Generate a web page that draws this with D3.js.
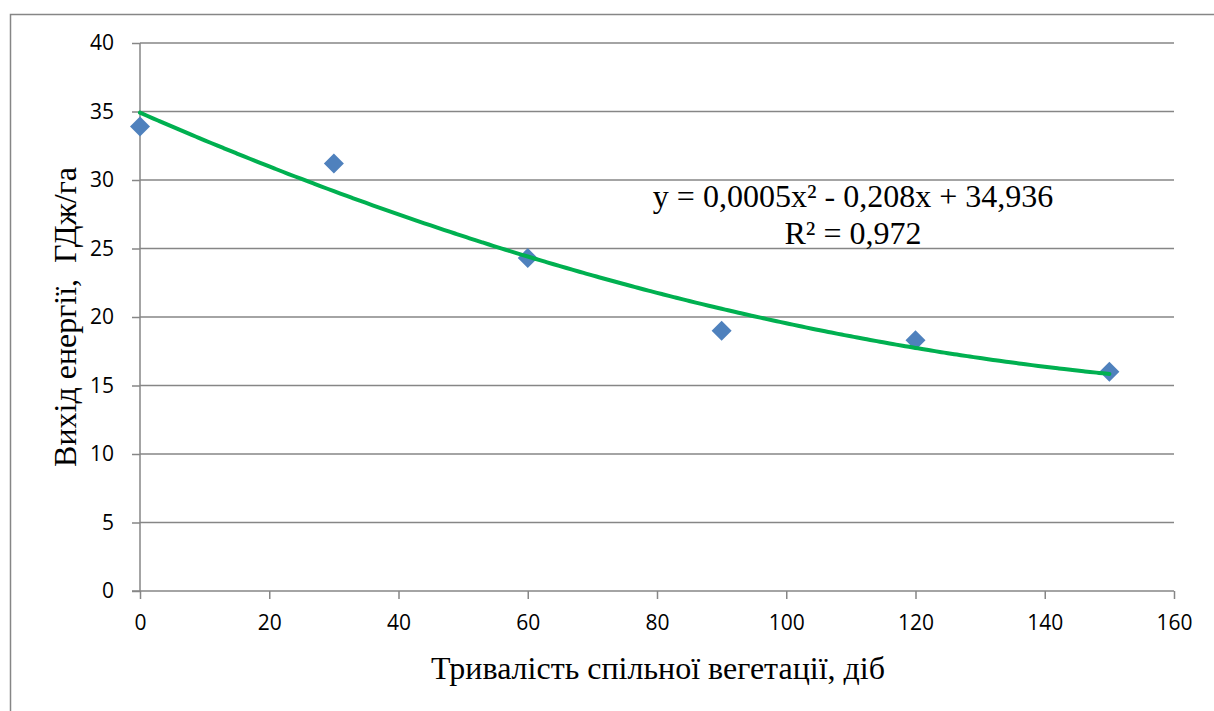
<!DOCTYPE html>
<html>
<head>
<meta charset="utf-8">
<script src="https://cdn.jsdelivr.net/npm/d3@7"></script>
<style>
  html, body { margin: 0; padding: 0; background: #fff; overflow: hidden; }
  svg { display: block; }
</style>
</head>
<body>
<svg id="chart" width="1214" height="711"></svg>
<script>
// ---- data ----
const xValues = [0, 30, 60, 90, 120, 150];
const yValues = [33.9, 31.2, 24.3, 19.0, 18.3, 16.0];
const xTicks = [0, 20, 40, 60, 80, 100, 120, 140, 160];
const yTicks = [0, 5, 10, 15, 20, 25, 30, 35, 40];
const xTitle = "Тривалість спільної вегетації, діб";
const yTitle = "Вихід енергії,  ГДж/га";
const equationLines = ["y = 0,0005x² - 0,208x + 34,936", "R² = 0,972"];

// ---- quadratic least squares fit from the data ----
function polyFit2(xs, ys) {
  const n = xs.length;
  let s = [0,0,0,0,0], t = [0,0,0];
  for (let i = 0; i < n; i++) {
    const xv = xs[i], yv = ys[i];
    for (let k = 0; k <= 4; k++) s[k] += Math.pow(xv, k);
    for (let k = 0; k <= 2; k++) t[k] += yv * Math.pow(xv, k);
  }
  const A = [[s[0], s[1], s[2], t[0]], [s[1], s[2], s[3], t[1]], [s[2], s[3], s[4], t[2]]];
  for (let i = 0; i < 3; i++) {
    for (let j = i + 1; j < 3; j++) {
      const f = A[j][i] / A[i][i];
      for (let k = i; k < 4; k++) A[j][k] -= f * A[i][k];
    }
  }
  const c = [0,0,0];
  for (let i = 2; i >= 0; i--) {
    let v = A[i][3];
    for (let k = i + 1; k < 3; k++) v -= A[i][k] * c[k];
    c[i] = v / A[i][i];
  }
  return c; // c0 + c1 x + c2 x^2
}
const coef = polyFit2(xValues, yValues);

// ---- layout ----
const svg = d3.select("#chart");
const pLeft = 140, pRight = 1174, pTop = 43, pBottom = 591;
const x = d3.scaleLinear().domain([0, 160]).range([pLeft, pRight]);
const y = d3.scaleLinear().domain([0, 40]).range([pBottom, pTop]);
const gridColor = "#868686";
const serif = "'Liberation Serif', 'Times New Roman', serif";

// outer border
svg.append("rect").attr("x", 10.5).attr("y", 14.5).attr("width", 1220).attr("height", 720)
  .attr("fill", "#fff").attr("stroke", gridColor).attr("stroke-width", 1.5);

// gridlines
svg.append("g").selectAll("line").data(yTicks.filter(d => d > 0)).join("line")
  .attr("x1", pLeft).attr("x2", pRight).attr("y1", d => y(d)).attr("y2", d => y(d))
  .attr("stroke", gridColor).attr("stroke-width", 1.5);

// y axis
const yAxis = d3.axisLeft(y).tickValues(yTicks).tickSize(8).tickPadding(18).tickFormat(d3.format("d"));
const gy = svg.append("g").attr("transform", `translate(${pLeft},0)`).call(yAxis);
gy.select(".domain").attr("stroke", gridColor).attr("stroke-width", 1.5).attr("d", `M0,${pTop}V${pBottom}`);
gy.selectAll(".tick line").attr("stroke", gridColor).attr("stroke-width", 1.5);
gy.selectAll(".tick text").attr("font-family", "'Open Sans', sans-serif").attr("font-size", 21).attr("fill", "#000");

// x axis
const xAxis = d3.axisBottom(x).tickValues(xTicks).tickSize(8).tickPadding(16).tickFormat(d3.format("d"));
const gx = svg.append("g").attr("transform", `translate(0,${pBottom})`).call(xAxis);
gx.select(".domain").attr("stroke", gridColor).attr("stroke-width", 1.5).attr("d", `M${pLeft - 8},0H${pRight}`);
gx.selectAll(".tick line").attr("stroke", gridColor).attr("stroke-width", 1.5);
gx.selectAll(".tick text").attr("font-family", "'Open Sans', sans-serif").attr("font-size", 21).attr("fill", "#000");

// points
const sym = d3.symbol().type(d3.symbolSquare).size(200);
svg.append("g").selectAll("path").data(xValues.map((d, i) => [d, yValues[i]])).join("path")
  .attr("d", sym)
  .attr("transform", d => `translate(${x(d[0])},${y(d[1])}) rotate(45)`)
  .attr("fill", "#4f81bd");

// trendline
const curveX = d3.range(0, 150.01, 1);
const line = d3.line().x(d => x(d)).y(d => y(coef[0] + coef[1] * d + coef[2] * d * d)).curve(d3.curveMonotoneX);
svg.append("path").datum(curveX).attr("d", line)
  .attr("fill", "none").attr("stroke", "#00b050").attr("stroke-width", 4).attr("stroke-linecap", "round");

// equation
const eq = svg.append("text").attr("font-family", serif)
  .attr("font-size", 32).attr("fill", "#000").attr("text-anchor", "middle");
eq.append("tspan").attr("x", 853).attr("y", 207).text(equationLines[0]);
eq.append("tspan").attr("x", 853).attr("y", 244).text(equationLines[1]);

// axis titles
svg.append("text").attr("x", 658).attr("y", 679).attr("text-anchor", "middle")
  .attr("font-family", serif).attr("font-size", 32).attr("fill", "#000")
  .text(xTitle);
svg.append("text").attr("transform", "translate(76,317) rotate(-90)").attr("text-anchor", "middle")
  .attr("font-family", serif).attr("font-size", 32).attr("fill", "#000")
  .style("white-space", "pre")
  .text(yTitle);
</script>
</body>
</html>
